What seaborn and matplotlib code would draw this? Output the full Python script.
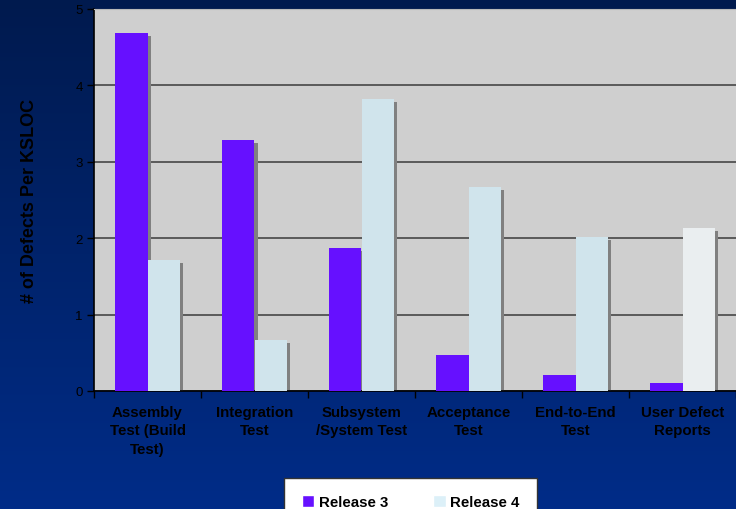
import numpy as np
import pandas as pd
import matplotlib
matplotlib.use("Agg")
import matplotlib.pyplot as plt
import matplotlib.transforms as mtransforms
from matplotlib.patches import Rectangle
import seaborn as sns

# data
phases = ["Assembly\nTest (Build\nTest)", "Integration\nTest", "Subsystem\n/System Test",
          "Acceptance\nTest", "End-to-End\nTest", "User Defect\nReports"]
release3 = [4.69, 3.29, 1.87, 0.47, 0.21, 0.10]
release4 = [1.71, 0.67, 3.82, 2.67, 2.02, 2.13]
releases = ["Release 3", "Release 4"]

df = pd.DataFrame({
    "phase": phases * 2,
    "defects": release3 + release4,
    "release": [releases[0]] * len(phases) + [releases[1]] * len(phases),
})

sns.set_style("ticks")
plt.rcParams["font.family"] = ["Liberation Sans", "DejaVu Sans"]
plt.rcParams.update({"text.color": "black", "axes.labelcolor": "black",
                     "xtick.color": "black", "ytick.color": "black"})

fig = plt.figure(figsize=(7.36, 5.10), dpi=100)

# gradient backdrop
bg = fig.add_axes([0, 0, 1, 1], zorder=-10)
top = np.array([0x00, 0x1a, 0x4e]) / 255
bot = np.array([0x00, 0x2c, 0x88]) / 255
t = np.linspace(0, 1, 256)[:, None]
grad = top[None, :] * (1 - t) + bot[None, :] * t
bg.imshow(grad[:, None, :], aspect="auto", extent=[0, 1, 0, 1])
bg.set_axis_off()

ax = fig.add_axes([94 / 736, 118 / 510, 1 - 94 / 736, 382 / 510])
ax.set_facecolor("#cfcfcf")

sns.barplot(data=df, x="phase", y="defects", hue="release", hue_order=releases,
            palette=["#6610ff", "#d0e4ec"], width=0.6, saturation=1,
            linewidth=0, ax=ax, zorder=3, legend=False)

# the last Release 4 bar is paler in the original
bars = [p for p in ax.patches if isinstance(p, Rectangle)]
bars[-1].set_facecolor("#eaeef0")

# drop shadows
shift = mtransforms.ScaledTranslation(3 / 100, -3 / 100, fig.dpi_scale_trans)
for p in bars:
    ax.add_patch(Rectangle((p.get_x(), p.get_y()), p.get_width(), p.get_height(),
                           facecolor="#808080", edgecolor="none",
                           transform=ax.transData + shift, zorder=2, clip_on=True))

ax.set_ylim(0, 5)
ax.set_xlim(-0.5, len(phases) - 0.5)
ax.set_yticks([0, 1, 2, 3, 4, 5])
ax.tick_params(axis="y", labelsize=9.5, length=5, width=1, colors="black", pad=3)
ax.yaxis.grid(True, color="#5a5a5a", linewidth=1.4, zorder=1)
ax.set_axisbelow(True)

ax.set_xticks(range(len(phases)))
ax.set_xticklabels(phases, fontsize=10.8, fontweight="bold", linespacing=1.4, color="black")
ax.tick_params(axis="x", length=0, pad=10)
ax.set_xticks(np.arange(-0.5, len(phases), 1), minor=True)
ax.tick_params(axis="x", which="minor", length=5, width=1, color="black")

ax.set_xlabel("")
ax.set_ylabel("# of Defects Per KSLOC", fontsize=13, fontweight="bold",
              labelpad=27, color="black")

for s in ["left", "bottom"]:
    ax.spines[s].set_color("black")
    ax.spines[s].set_linewidth(1.2)
ax.spines["top"].set_color("#b8b8b8")
ax.spines["right"].set_visible(False)

handles = [Rectangle((0, 0), 1, 1, facecolor="#6610ff"),
           Rectangle((0, 0), 1, 1, facecolor="#dcf0f8")]
leg = fig.legend(handles, releases, loc="upper center", bbox_to_anchor=(0.558, 0.061),
                 bbox_transform=fig.transFigure, borderaxespad=0,
                 ncol=2, frameon=True, fancybox=False, framealpha=1,
                 handlelength=0.85, handleheight=0.85, handletextpad=0.3,
                 columnspacing=3.0, borderpad=1.15,
                 prop={"weight": "bold", "size": 10.8})
leg.get_frame().set_edgecolor("#333333")
leg.get_frame().set_linewidth(1)
for txt in leg.get_texts():
    txt.set_color("black")

fig.savefig("out.png", dpi=100)
